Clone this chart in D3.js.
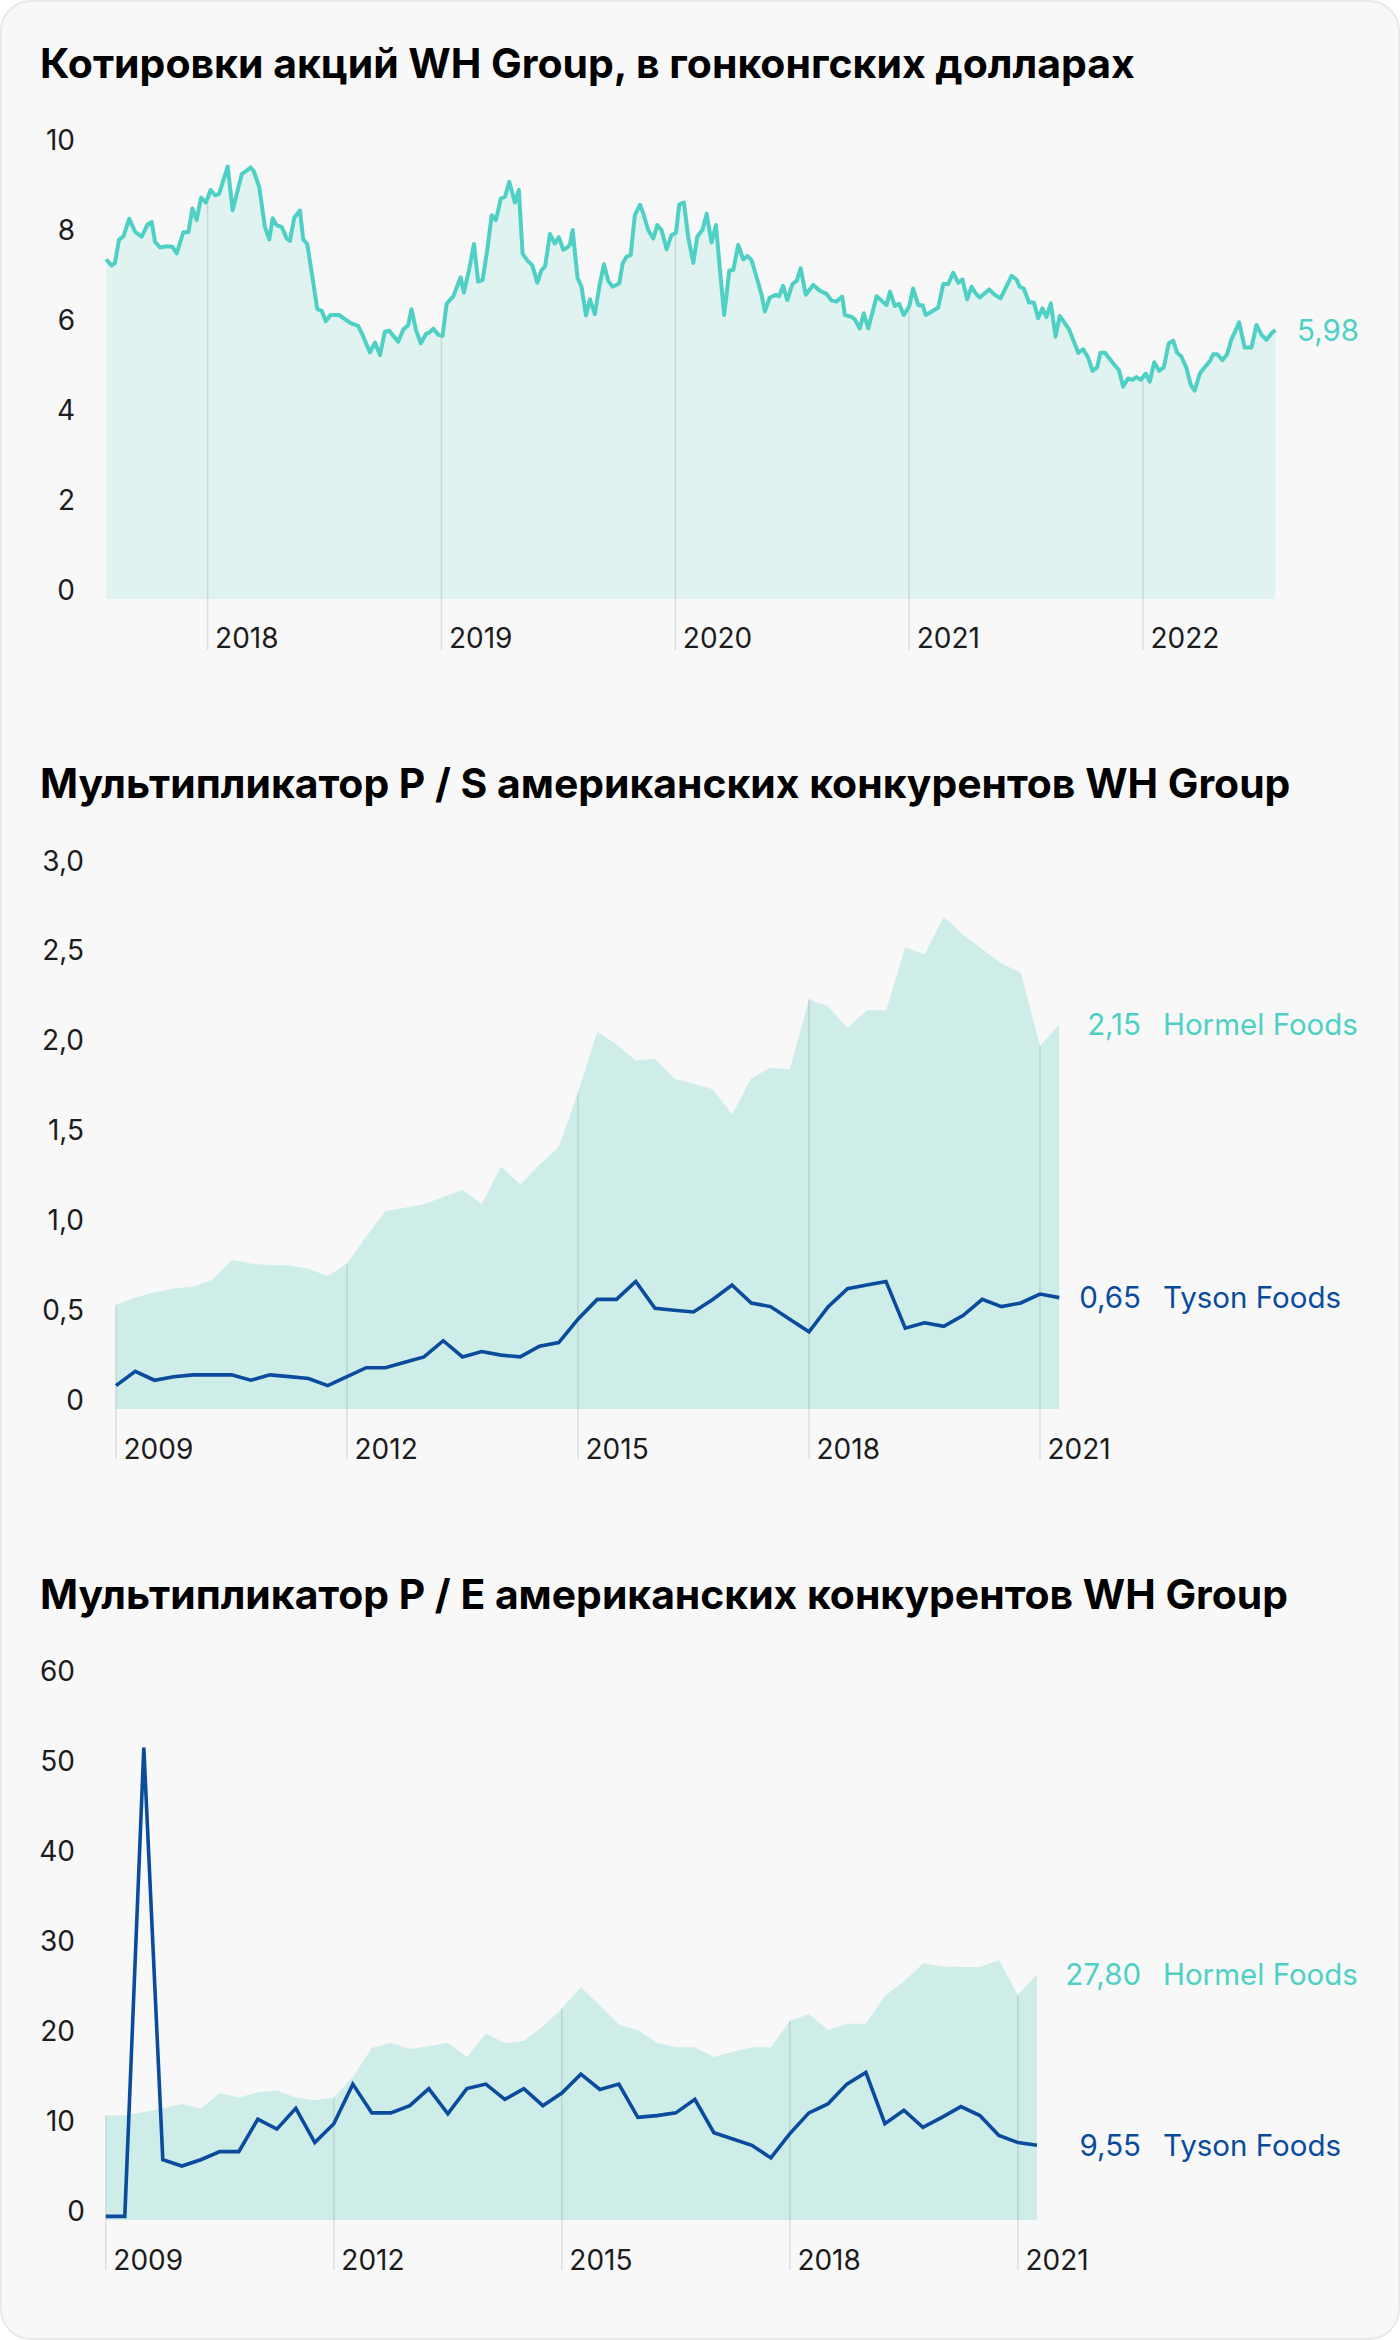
<!DOCTYPE html>
<html><head><meta charset="utf-8">
<script src="https://cdn.jsdelivr.net/npm/d3@7"></script>
<style>
html,body{margin:0;padding:0;background:#fff;}
svg{display:block;}
text{font-family:Inter,"Noto Sans",sans-serif;}
</style></head><body>
<svg id="c" width="1400" height="2340"></svg>
<script>
// ---------- DATA ----------
const titles = [
  "Котировки акций WH Group, в гонконгских долларах",
  "Мультипликатор P / S американских конкурентов WH Group",
  "Мультипликатор P / E американских конкурентов WH Group"
];
const priceDates = [
2017.566,2017.590,2017.604,2017.621,2017.640,2017.665,2017.690,2017.718,2017.744,2017.761,2017.775,2017.797,2017.825,2017.849,2017.868,2017.896,2017.918,2017.935,2017.953,2017.972,2017.993,
2018.013,2018.032,2018.049,2018.067,2018.086,2018.107,2018.129,2018.146,2018.167,2018.184,2018.198,2018.221,2018.245,2018.264,2018.278,2018.295,2018.317,2018.338,2018.352,2018.371,2018.395,2018.409,2018.426,2018.448,2018.469,2018.488,2018.505,2018.526,2018.563,2018.592,2018.612,2018.644,2018.666,2018.694,2018.716,2018.737,2018.758,2018.777,2018.794,2018.815,
2018.837,2018.858,2018.872,2018.891,2018.912,2018.934,2018.948,2018.965,2018.986,2019.005,2019.022,2019.036,2019.051,2019.082,2019.096,2019.118,2019.139,2019.157,2019.176,2019.196,2019.215,2019.233,2019.254,2019.272,2019.290,2019.314,2019.331,2019.347,2019.368,2019.388,2019.410,2019.428,2019.443,2019.464,2019.485,2019.502,2019.521,2019.538,2019.549,2019.561,2019.582,2019.599,2019.618,2019.635,2019.656,2019.675,2019.695,2019.713,2019.732,2019.760,2019.775,2019.792,2019.809,2019.827,2019.849,2019.863,2019.884,2019.906,2019.923,2019.941,2019.963,2019.984,2020.003,2020.017,2020.037,
2020.055,2020.077,2020.094,2020.117,2020.134,2020.155,2020.174,2020.191,2020.209,2020.231,2020.248,2020.269,2020.290,2020.309,2020.326,2020.347,2020.369,2020.383,2020.404,2020.430,2020.444,2020.461,2020.479,2020.501,2020.519,2020.536,2020.558,2020.590,2020.618,2020.647,2020.668,2020.690,2020.714,2020.725,2020.754,2020.768,2020.789,2020.806,2020.825,2020.861,2020.903,2020.918,2020.939,2020.957,2020.977,2021.000,2021.017,2021.039,2021.057,2021.071,2021.124,2021.146,2021.167,2021.188,2021.210,2021.228,2021.248,2021.267,2021.285,2021.302,
2021.342,2021.366,2021.391,2021.438,2021.459,2021.473,2021.490,2021.513,2021.533,2021.552,2021.570,2021.587,2021.606,2021.626,2021.644,2021.684,2021.723,2021.744,2021.765,2021.784,2021.804,2021.818,2021.837,2021.880,2021.897,2021.915,2021.936,2021.955,2021.972,2021.991,2022.012,2022.029,2022.048,2022.069,2022.089,2022.110,2022.129,2022.146,2022.164,2022.186,2022.204,2022.221,2022.243,2022.264,2022.288,2022.300,2022.317,2022.340,2022.360,2022.378,2022.395,2022.411,2022.435,2022.464,2022.485,2022.507,2022.528,2022.549,2022.566];
const priceValues = [
7.55,7.41,7.47,7.98,8.06,8.45,8.16,8.05,8.33,8.38,7.94,7.81,7.84,7.83,7.68,8.15,8.15,8.68,8.42,8.92,8.81,
9.09,8.97,9.00,9.30,9.61,8.64,9.09,9.44,9.52,9.59,9.50,9.15,8.27,7.99,8.46,8.31,8.27,8.01,7.96,8.48,8.63,7.99,7.89,7.16,6.44,6.41,6.17,6.31,6.31,6.20,6.13,6.07,5.83,5.48,5.70,5.42,5.94,5.96,5.85,5.72,
5.99,6.09,6.44,5.98,5.68,5.89,5.92,6.01,5.87,5.85,6.56,6.64,6.73,7.15,6.81,7.31,7.89,7.05,7.09,7.76,8.53,8.42,8.90,8.94,9.27,8.81,9.09,7.67,7.52,7.42,7.03,7.31,7.39,8.11,7.90,8.04,7.76,7.81,7.87,8.20,7.13,6.94,6.30,6.66,6.33,6.94,7.44,7.07,6.94,7.01,7.46,7.61,7.64,8.53,8.76,8.57,8.20,8.01,8.31,8.20,7.77,8.09,8.14,8.77,8.81,
8.05,7.47,8.05,8.21,8.56,7.92,8.31,7.31,6.31,7.30,7.31,7.87,7.55,7.62,7.53,7.16,6.76,6.39,6.70,6.76,6.73,6.96,6.64,7.00,7.07,7.35,6.76,6.98,6.85,6.78,6.63,6.61,6.72,6.31,6.27,6.21,6.01,6.35,6.01,6.73,6.53,6.83,6.51,6.56,6.31,6.50,6.90,6.53,6.53,6.31,6.47,7.00,7.00,7.25,7.03,7.10,6.66,6.94,6.79,6.70,
6.88,6.76,6.68,7.18,7.10,6.94,6.90,6.59,6.59,6.24,6.46,6.27,6.57,5.83,6.29,5.99,5.47,5.55,5.37,5.07,5.15,5.47,5.47,5.19,5.09,4.72,4.90,4.87,4.93,4.87,5.01,4.83,5.26,5.07,5.15,5.68,5.74,5.47,5.39,5.13,4.76,4.63,5.01,5.15,5.30,5.44,5.44,5.31,5.44,5.77,5.96,6.15,5.59,5.59,6.09,5.87,5.76,5.90,5.98];
const priceTickYears = [2018, 2019, 2020, 2021, 2022];
const priceYTicks = [0, 2, 4, 6, 8, 10];
const priceLastLabel = "5,98";

const quarterDates = [
2009.00,2009.25,2009.50,2009.75,2010.00,2010.25,2010.50,2010.75,2011.00,2011.25,
2011.50,2011.75,2012.00,2012.25,2012.50,2012.75,2013.00,2013.25,2013.50,2013.75,
2014.00,2014.25,2014.50,2014.75,2015.00,2015.25,2015.50,2015.75,2016.00,2016.25,
2016.50,2016.75,2017.00,2017.25,2017.50,2017.75,2018.00,2018.25,2018.50,2018.75,
2019.00,2019.25,2019.50,2019.75,2020.00,2020.25,2020.50,2020.75,2021.00,2021.25];
const hormelPS = [
0.58,0.62,0.65,0.67,0.68,0.72,0.83,0.81,0.80,0.80,
0.78,0.74,0.81,0.96,1.10,1.12,1.14,1.18,1.22,1.14,
1.35,1.25,1.36,1.46,1.76,2.10,2.03,1.94,1.95,1.84,
1.81,1.78,1.64,1.84,1.90,1.89,2.28,2.24,2.12,2.22,
2.22,2.57,2.53,2.74,2.64,2.56,2.48,2.43,2.02,2.14];
const tysonPS = [
0.13,0.21,0.16,0.18,0.19,0.19,0.19,0.16,0.19,0.18,
0.17,0.13,0.18,0.23,0.23,0.26,0.29,0.38,0.29,0.32,
0.30,0.29,0.35,0.37,0.50,0.61,0.61,0.71,0.56,0.55,
0.54,0.61,0.69,0.59,0.57,0.50,0.43,0.57,0.67,0.69,
0.71,0.45,0.48,0.46,0.52,0.61,0.57,0.59,0.64,0.62];
const hormelPE = [
11.6,11.6,12.0,12.4,12.9,12.4,14.1,13.6,14.2,14.4,
13.6,13.3,13.6,15.9,19.1,19.7,19.0,19.3,19.7,18.1,
20.7,19.7,19.9,21.5,23.5,25.9,23.8,21.7,21.1,19.7,
19.2,19.2,18.1,18.7,19.2,19.2,22.1,22.9,21.1,21.8,
21.8,24.9,26.5,28.5,28.2,28.1,28.1,28.9,25.0,27.3];
const tysonPE = [
0.4,0.4,52.5,6.7,6.0,6.7,7.6,7.6,11.2,10.1,
12.4,8.6,10.7,15.1,11.9,11.9,12.7,14.6,11.8,14.6,
15.1,13.4,14.6,12.7,14.1,16.2,14.5,15.1,11.4,11.6,
11.9,13.4,9.7,9.0,8.3,6.9,9.6,11.9,12.9,15.1,
16.4,10.7,12.2,10.3,11.4,12.6,11.6,9.4,8.6,8.3];
const peerTickYears = [2009, 2012, 2015, 2018, 2021];
const psYTicks = [0, 0.5, 1, 1.5, 2, 2.5, 3];
const peYTicks = [0, 10, 20, 30, 40, 50, 60];
const seriesNames = ["Hormel Foods", "Tyson Foods"];
const psLastLabels = ["2,15", "0,65"];
const peLastLabels = ["27,80", "9,55"];

// ---------- STYLE ----------
const TURQ = "#4fd0c4", BLUE = "#0a4b9e";
const FILL1 = "#e0f3f0", FILL2 = "#ceede9";
const LABEL_FS = 29.5;
const ru = d3.formatLocale({decimal: ",", thousands: " ", grouping: [3], currency: ["", ""]});
const fmt1 = ru.format(".1f");

const svg = d3.select("#c");
svg.append("rect").attr("x", 1).attr("y", 1).attr("width", 1398).attr("height", 2338)
  .attr("rx", 30).attr("fill", "#f8f8f8").attr("stroke", "#e9e9e9").attr("stroke-width", 2);

function title(text, y, targetW) {
  const t = svg.append("text").attr("x", 40).attr("y", y).attr("font-size", 41)
    .attr("font-weight", 700).attr("fill", "#000").text(text);
  const w = t.node().getComputedTextLength();
  t.attr("font-size", 41 * targetW / w);
}
function interp(xs, vs, x) {
  const i = d3.bisectLeft(xs, x);
  if (i <= 0) return vs[0];
  if (i >= xs.length) return vs[vs.length - 1];
  const t = (x - xs[i - 1]) / (xs[i] - xs[i - 1]);
  return vs[i - 1] + t * (vs[i] - vs[i - 1]);
}
function yAxis(y, ticks, fmt, xRight, zeroX) {
  const g = svg.append("g").attr("transform", `translate(${xRight},0)`)
    .call(d3.axisLeft(y).tickValues(ticks).tickFormat(fmt).tickSize(0).tickPadding(0));
  g.select(".domain").remove();
  g.selectAll("text").attr("dy", 0).attr("font-size", 28).attr("fill", "#1c1c1c")
    .attr("font-family", "Inter, sans-serif")
    .attr("x", d => (d === 0 && zeroX != null) ? zeroX - xRight : 0);
}
function xAxis(x, years, yBase) {
  const g = svg.append("g").attr("transform", `translate(0,${yBase})`)
    .call(d3.axisBottom(x).tickValues(years).tickFormat(d3.format("d")).tickSize(0).tickPadding(0));
  g.select(".domain").remove();
  g.selectAll("text").attr("y", 0).attr("dy", 0).attr("x", 7).attr("text-anchor", "start")
    .attr("font-size", 28).attr("fill", "#1c1c1c").attr("font-family", "Inter, sans-serif");
}
function gridlines(x, y, years, xs, vs, yBottom) {
  svg.append("g").selectAll("line").data(years).join("line")
    .attr("x1", d => x(d)).attr("x2", d => x(d))
    .attr("y1", d => y(interp(xs, vs, d))).attr("y2", yBottom)
    .attr("stroke", "#000").attr("stroke-opacity", 0.1).attr("stroke-width", 1.6);
}
function endLabel(txt, xPos, yCenter, color, anchor) {
  svg.append("text").attr("x", xPos).attr("y", yCenter + 0.36 * LABEL_FS)
    .attr("text-anchor", anchor).attr("font-size", LABEL_FS).attr("fill", color).text(txt);
}

// ---------- CHART 1 ----------
title(titles[0], 78, 1095);
const x1 = d3.scaleLinear().domain([2018, 2022]).range([207.6, 1143]);
const y1 = d3.scaleLinear().domain([0, 10]).range([599, 149]);
const d1 = priceDates.map((d, i) => ({x: d, v: priceValues[i]}));
svg.append("path").datum(d1).attr("fill", FILL1)
  .attr("d", d3.area().x(d => x1(d.x)).y0(y1(0)).y1(d => y1(d.v)));
gridlines(x1, y1, priceTickYears, priceDates, priceValues, 650);
svg.append("path").datum(d1).attr("fill", "none").attr("stroke", TURQ).attr("stroke-width", 4)
  .attr("stroke-linejoin", "round")
  .attr("d", d3.line().x(d => x1(d.x)).y(d => y1(d.v)));
yAxis(y1, priceYTicks, d3.format("d"), 75, null);
xAxis(x1, priceTickYears, 648);
endLabel(priceLastLabel, 1297, y1(priceValues[priceValues.length - 1]), TURQ, "start");

// ---------- CHART 2 & 3 ----------
function peerChart(opt) {
  title(opt.title, opt.titleY, opt.titleW);
  const x = d3.scaleLinear().domain([2009, 2021]).range(opt.xRange);
  const y = d3.scaleLinear().domain(opt.yDomain).range(opt.yRange);
  const h = quarterDates.map((d, i) => ({x: d, v: opt.hormel[i]}));
  const t = quarterDates.map((d, i) => ({x: d, v: opt.tyson[i]}));
  svg.append("path").datum(h).attr("fill", FILL2)
    .attr("d", d3.area().x(d => x(d.x)).y0(y(0)).y1(d => y(d.v)));
  gridlines(x, y, peerTickYears, quarterDates, opt.hormel, opt.gridBottom);
  svg.append("path").datum(t).attr("fill", "none").attr("stroke", BLUE).attr("stroke-width", 3.6)
    .attr("stroke-linejoin", "miter")
    .attr("d", d3.line().x(d => x(d.x)).y(d => y(d.v)));
  yAxis(y, opt.yTicks, opt.fmt, opt.yLabelX, opt.zeroX);
  xAxis(x, peerTickYears, opt.gridBottom);
  const hl = opt.hormel[opt.hormel.length - 1], tl = opt.tyson[opt.tyson.length - 1];
  endLabel(opt.labels[0], 1141, y(hl), TURQ, "end");
  endLabel(seriesNames[0], 1163, y(hl), TURQ, "start");
  endLabel(opt.labels[1], 1141, y(tl), BLUE, "end");
  endLabel(seriesNames[1], 1163, y(tl), BLUE, "start");
}
peerChart({
  title: titles[1], titleY: 798, titleW: 1251,
  xRange: [116, 1040], yDomain: [0, 3], yRange: [1409, 870],
  hormel: hormelPS, tyson: tysonPS, yTicks: psYTicks,
  fmt: d => d === 0 ? "0" : fmt1(d), yLabelX: 84, zeroX: 84,
  gridBottom: 1459, labels: psLastLabels
});
peerChart({
  title: titles[2], titleY: 1609, titleW: 1248,
  xRange: [105.8, 1017.9], yDomain: [0, 60], yRange: [2220, 1680],
  hormel: hormelPE, tyson: tysonPE, yTicks: peYTicks,
  fmt: d3.format("d"), yLabelX: 75, zeroX: 85,
  gridBottom: 2270, labels: peLastLabels
});
</script>
</body></html>
